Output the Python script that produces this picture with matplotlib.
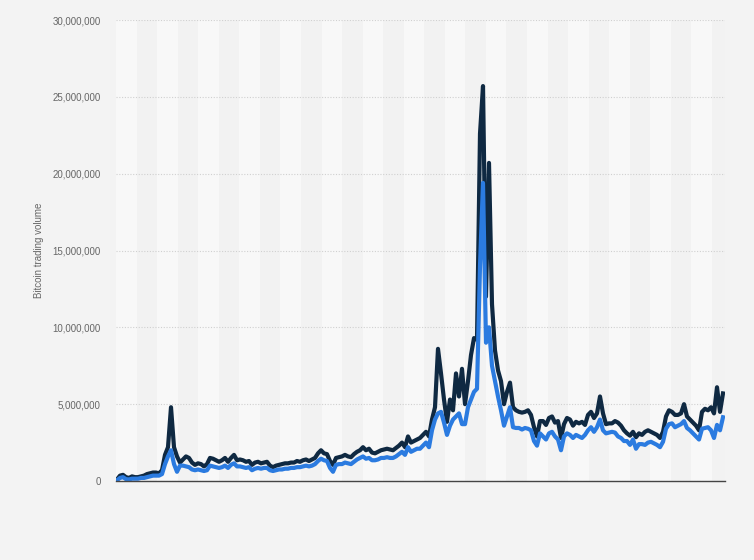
import matplotlib.pyplot as plt
from matplotlib.patches import Rectangle
from matplotlib.ticker import FuncFormatter
import numpy as np

# trading volume in millions (one value per time step)
total_volume = [
    0.1, 0.35, 0.4, 0.25, 0.2, 0.3, 0.25, 0.25, 0.3, 0.35,
    0.45, 0.5, 0.55, 0.55, 0.5, 0.7, 1.7, 2.2, 4.8, 2.2,
    1.6, 1.2, 1.4, 1.6, 1.5, 1.2, 1.05, 1.15, 1.1, 0.95,
    1.1, 1.5, 1.45, 1.35, 1.25, 1.35, 1.5, 1.25, 1.5, 1.7,
    1.35, 1.4, 1.35, 1.25, 1.3, 1.05, 1.2, 1.25, 1.15, 1.2,
    1.25, 1.0, 0.9, 1.0, 1.05, 1.1, 1.15, 1.15, 1.2, 1.2,
    1.3, 1.25, 1.35, 1.4, 1.3, 1.4, 1.5, 1.8, 2.0, 1.8,
    1.75, 1.3, 1.05, 1.5, 1.55, 1.6, 1.7, 1.6, 1.55, 1.75,
    1.9, 2.0, 2.2, 2.0, 2.1, 1.85, 1.8, 1.9, 2.0, 2.05,
    2.1, 2.05, 2.0, 2.15, 2.3, 2.5, 2.2, 2.9, 2.5, 2.6,
    2.7, 2.8, 3.0, 3.2, 2.9, 4.0, 4.8, 8.6, 7.0, 5.3,
    3.85, 5.3, 4.6, 7.0, 5.5, 7.3, 5.0, 6.5, 8.2, 9.3,
    9.2, 22.6, 25.7, 12.0, 20.7, 11.5, 8.5, 7.2, 6.5, 5.0,
    5.8, 6.4, 4.8, 4.6, 4.5, 4.45, 4.5, 4.6, 4.3, 3.5,
    2.9, 3.9, 3.9, 3.65, 4.1, 4.2, 3.8, 3.9, 2.8, 3.7,
    4.1, 4.0, 3.6, 3.85, 3.75, 3.85, 3.65, 4.3, 4.5, 4.1,
    4.4, 5.5, 4.4, 3.7, 3.75, 3.75, 3.9, 3.8, 3.6, 3.3,
    3.1, 2.95, 3.2, 2.85, 3.1, 3.0, 3.2, 3.3, 3.2, 3.1,
    3.0, 2.8, 3.2, 4.2, 4.6, 4.5, 4.3, 4.3, 4.4, 5.0,
    4.2, 4.0, 3.8, 3.6, 3.3, 4.5, 4.7, 4.6, 4.8, 4.4,
    6.1, 4.5, 5.7,
]
second_volume = [
    0.05, 0.2, 0.25, 0.12, 0.1, 0.15, 0.15, 0.15, 0.2, 0.2,
    0.25, 0.3, 0.35, 0.35, 0.35, 0.45, 1.1, 1.6, 2.0, 1.1,
    0.6, 1.0, 1.0, 0.95, 0.9, 0.75, 0.7, 0.75, 0.7, 0.65,
    0.7, 1.0, 0.95, 0.9, 0.85, 0.9, 1.0, 0.85, 1.05, 1.15,
    0.95, 0.95, 0.9, 0.85, 0.9, 0.7, 0.8, 0.85, 0.8, 0.85,
    0.85, 0.7, 0.65, 0.7, 0.75, 0.75, 0.8, 0.8, 0.85, 0.85,
    0.9, 0.9, 0.95, 1.0, 0.95, 1.0, 1.1, 1.3, 1.45, 1.35,
    1.3, 0.85, 0.6, 1.05, 1.1, 1.1, 1.2, 1.15, 1.1, 1.25,
    1.4, 1.5, 1.6, 1.45, 1.5, 1.35, 1.35, 1.4, 1.5, 1.5,
    1.55, 1.5, 1.5, 1.6, 1.75, 1.9, 1.7, 2.2, 1.9, 2.0,
    2.1, 2.1, 2.3, 2.5, 2.2, 3.3, 4.0, 4.4, 4.5, 3.8,
    3.0, 3.6, 4.0, 4.2, 4.4, 3.7, 3.7, 4.8, 5.3, 5.8,
    6.0, 14.0, 19.4, 9.0, 10.0, 7.5, 6.5, 5.5, 4.6, 3.6,
    4.2, 4.8, 3.5, 3.45, 3.45, 3.35, 3.45, 3.4, 3.3, 2.6,
    2.3, 3.1, 2.9, 2.7, 3.1, 3.2, 2.9, 2.7, 2.0, 2.9,
    3.1, 3.0, 2.8, 3.0, 2.9, 2.8, 3.0, 3.3, 3.5, 3.2,
    3.5, 4.0, 3.3, 3.1, 3.15, 3.2, 3.15, 2.9, 2.8, 2.6,
    2.6, 2.35, 2.7, 2.1, 2.4, 2.4, 2.35, 2.5, 2.55, 2.45,
    2.35, 2.2, 2.55, 3.4, 3.7, 3.75, 3.5, 3.6, 3.7, 3.9,
    3.45, 3.3, 3.1, 2.9, 2.7, 3.4, 3.45, 3.5, 3.3, 2.8,
    3.65, 3.3, 4.15,
]

total = np.array(total_volume) * 1e6
second = np.array(second_volume) * 1e6
x = np.arange(len(total))

plt.rcParams['font.family'] = ['Liberation Sans', 'DejaVu Sans']

fig = plt.figure(figsize=(7.54, 5.6), dpi=100, facecolor='#f3f3f3')
ax = fig.add_axes([116 / 754, 1 - 481 / 560, 609 / 754, 461 / 560])
ax.set_facecolor('#f3f3f3')

# alternating background bands
band = 20.55 / 609
i = 0
while i * band < 1:
    col = '#f8f8f8' if i % 2 == 0 else '#f2f2f2'
    ax.add_patch(Rectangle((i * band, 0), min(band, 1 - i * band), 1,
                           transform=ax.transAxes, facecolor=col,
                           edgecolor='none', zorder=0))
    i += 1

ax.plot(x, total, color='#0f2942', lw=3.0, zorder=3, solid_joinstyle='round')
ax.plot(x, second, color='#2b7be0', lw=3.0, zorder=4, solid_joinstyle='round')

ax.set_xlim(-1 / 3, len(total) - 1 + 2 / 3)
ax.set_ylim(0, 30e6)
ax.set_yticks(np.arange(0, 30e6 + 1, 5e6))
ax.yaxis.set_major_formatter(FuncFormatter(lambda v, p: f'{int(v):,}'))
ax.set_xticks([])

ax.grid(axis='y', color='#d0d0d0', linestyle=(0, (1, 1.5)), linewidth=0.8, zorder=1)
ax.set_axisbelow(True)

for s in ['top', 'right', 'left']:
    ax.spines[s].set_visible(False)
ax.spines['bottom'].set_color('#444444')
ax.spines['bottom'].set_linewidth(1.0)
ax.spines['bottom'].set_zorder(5)

ax.tick_params(axis='y', length=0, pad=11, labelsize=7, labelcolor='#666666')
ax.set_ylabel('Bitcoin trading volume', fontsize=7, color='#666666')
ax.yaxis.set_label_coords(-72 / 609, 0.5)

plt.savefig('out.png', dpi=100, facecolor=fig.get_facecolor())
